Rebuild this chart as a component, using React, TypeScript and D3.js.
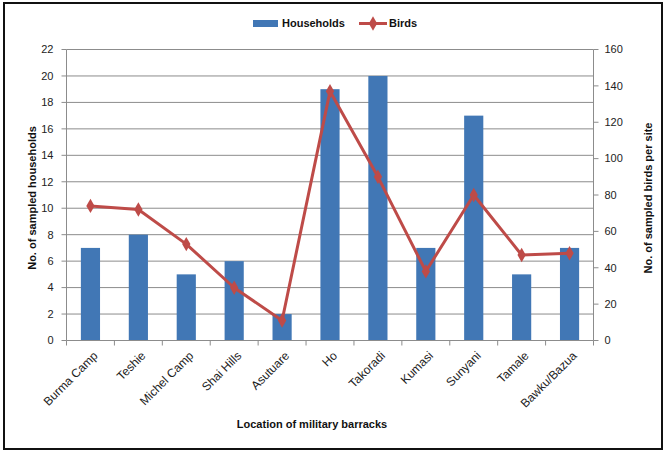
import React from "react";
import * as d3 from "d3";

const categories = ["Burma Camp", "Teshie", "Michel Camp", "Shai Hills", "Asutuare", "Ho", "Takoradi", "Kumasi", "Sunyani", "Tamale", "Bawku/Bazua"];
const households = [7, 8, 5, 6, 2, 19, 20, 7, 17, 5, 7];
const birds = [74, 72, 53, 29, 11, 137, 90, 38, 80, 47, 48];
const leftTicks = [0, 2, 4, 6, 8, 10, 12, 14, 16, 18, 20, 22];
const rightTicks = [0, 20, 40, 60, 80, 100, 120, 140, 160];

const W = 666, H = 454;
const left = 66.5, right = 593.5, top = 49.5, bottom = 340.5;
const font = "'Liberation Sans', Arial, sans-serif";
const barColor = "#4177B5";
const lineColor = "#BE4B48";
const gridColor = "#8C8C8C";

export default function App() {
  const x = d3.scaleBand<string>().domain(categories).range([left, right]).paddingInner(0).paddingOuter(0);
  const yL = d3.scaleLinear().domain([0, 22]).range([bottom, top]);
  const yR = d3.scaleLinear().domain([0, 160]).range([bottom, top]);
  const bw = x.bandwidth() * 0.4;
  const line = d3.line<number>().x((_, i) => x(categories[i])! + x.bandwidth() / 2).y((d) => yR(d));
  const boundaries = [...categories.map((c) => x(c)!), right];
  const diamond = d3.symbol().type(d3.symbolDiamond).size(60)();

  return (
    <svg width={W} height={H} style={{ position: "absolute", left: 0, top: 0, background: "#fff" }} fontFamily={font}>
      <rect x={4} y={3} width={658} height={446} fill="#fff" stroke="#111" strokeWidth={2} />
      {/* gridlines */}
      {leftTicks.slice(1).map((t) => (
        <line key={"g" + t} x1={left} x2={right} y1={yL(t)} y2={yL(t)} stroke={gridColor} strokeWidth={1} />
      ))}
      {/* bars */}
      {households.map((v, i) => (
        <rect key={"b" + i} x={x(categories[i])! + (x.bandwidth() - bw) / 2} y={yL(v)} width={bw} height={yL(0) - yL(v)} fill={barColor} />
      ))}
      {/* axes */}
      <line x1={left} x2={left} y1={top} y2={bottom} stroke={gridColor} />
      <line x1={right} x2={right} y1={top} y2={bottom} stroke={gridColor} />
      <line x1={left} x2={right} y1={bottom} y2={bottom} stroke={gridColor} />
      {leftTicks.map((t) => (
        <g key={"l" + t}>
          <line x1={left - 5} x2={left} y1={yL(t)} y2={yL(t)} stroke={gridColor} />
          <text x={left - 13} y={yL(t)} dy="0.35em" textAnchor="end" fontSize={11} fill="#222">{t}</text>
        </g>
      ))}
      {rightTicks.map((t) => (
        <g key={"r" + t}>
          <line x1={right} x2={right + 5} y1={yR(t)} y2={yR(t)} stroke={gridColor} />
          <text x={right + 11} y={yR(t)} dy="0.35em" textAnchor="start" fontSize={11} fill="#222">{t}</text>
        </g>
      ))}
      {boundaries.map((b, i) => (
        <line key={"t" + i} x1={b} x2={b} y1={bottom} y2={bottom + 5} stroke={gridColor} />
      ))}
      {categories.map((c) => {
        const cx = x(c)! + x.bandwidth() / 2 + 5;
        const cy = bottom + 13;
        return (
          <text key={"c" + c} x={cx} y={cy} transform={`rotate(-45 ${cx} ${cy})`} textAnchor="end" dy="0.35em" fontSize={12} fill="#222">{c}</text>
        );
      })}
      {/* line series */}
      <path d={line(birds)!} fill="none" stroke={lineColor} strokeWidth={3} strokeLinejoin="round" />
      {birds.map((v, i) => (
        <path key={"m" + i} d={diamond!} transform={`translate(${x(categories[i])! + x.bandwidth() / 2},${yR(v)})`} fill={lineColor} />
      ))}
      {/* axis titles */}
      <text x={312} y={428} textAnchor="middle" fontSize={11} fontWeight="bold" fill="#111">Location of military barracks</text>
      <text transform={`translate(36,198) rotate(-90)`} textAnchor="middle" fontSize={11} fontWeight="bold" fill="#111">No. of sampled households</text>
      <text transform={`translate(652,198) rotate(-90)`} textAnchor="middle" fontSize={11} fontWeight="bold" fill="#111">No. of sampled birds per site</text>
      {/* legend */}
      <rect x={253} y={20} width={25} height={7} fill={barColor} />
      <text x={282} y={27} fontSize={11} fontWeight="bold" fill="#111">Households</text>
      <line x1={359} x2={387} y1={23.5} y2={23.5} stroke={lineColor} strokeWidth={3} />
      <path d={diamond!} transform="translate(373,23.5)" fill={lineColor} />
      <text x={389} y={27} fontSize={11} fontWeight="bold" fill="#111">Birds</text>
    </svg>
  );
}
